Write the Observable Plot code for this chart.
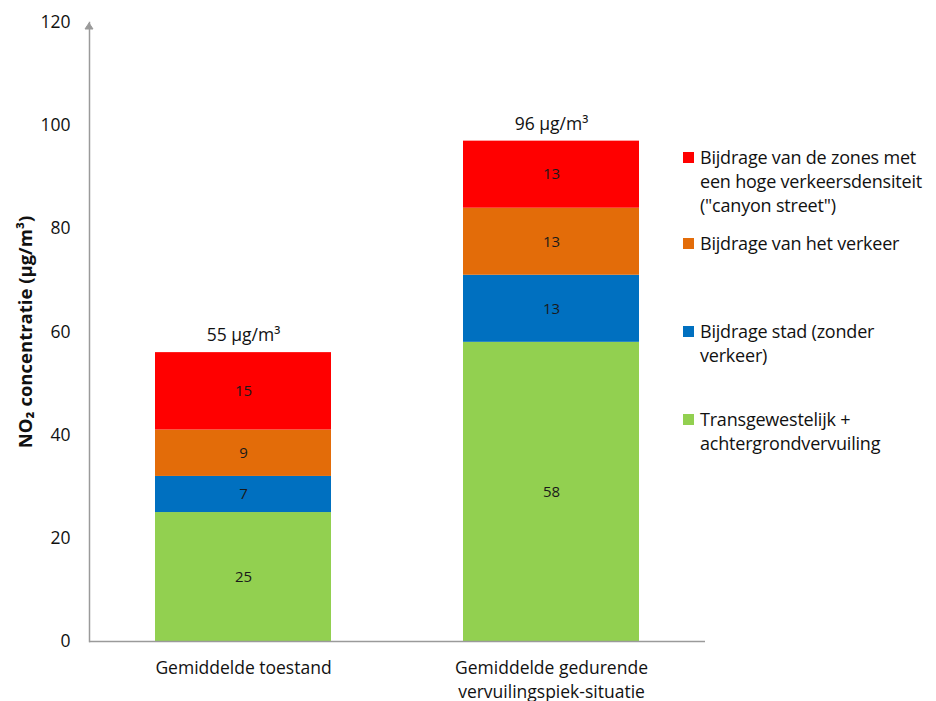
<!DOCTYPE html>
<html>
<head>
<meta charset="utf-8">
<script src="https://cdn.jsdelivr.net/npm/d3@7"></script>
<script src="https://cdn.jsdelivr.net/npm/@observablehq/plot@0.6"></script>
<style>
  html, body { margin: 0; padding: 0; background: #fff; overflow: hidden; }
  #wrap { position: relative; width: 936px; height: 701px; font-family: "Open Sans", sans-serif; }
  #wrap svg { position: absolute; left: 0; top: 0; }
  .legend { position: absolute; left: 683px; top: 0; font-size: 18px; color: #111; letter-spacing: -0.2px; }
  .legend .item { position: absolute; left: 0; width: 250px; line-height: 24px; padding-left: 17px; white-space: nowrap; }
  .legend .sw { position: absolute; left: 0; top: 7px; width: 11px; height: 11px; }
</style>
</head>
<body>
<div id="wrap"></div>
<script>
// Scenarios (x categories) and their axis labels
const categories = ["Gemiddelde toestand", "Gemiddelde gedurende vervuilingspiek-situatie"];
const categoryLabels = ["Gemiddelde toestand", "Gemiddelde gedurende\nvervuilingspiek-situatie"];

// Contributions, listed bottom to top of each stack
const series = [
  "Transgewestelijk + achtergrondvervuiling",
  "Bijdrage stad (zonder verkeer)",
  "Bijdrage van het verkeer",
  "Bijdrage van de zones met een hoge verkeersdensiteit (\"canyon street\")"
];
const seriesColors = ["#92D050", "#0070C0", "#E36C09", "#FF0000"];

// NO2 contribution (µg/m³) per series, one value per scenario
const background = [25, 58];
const city = [7, 13];
const traffic = [9, 13];
const canyon = [15, 13];

// Totals as printed above each bar
const totals = [55, 96];
const totalLabels = ["55 µg/m³", "96 µg/m³"];

// Legend text, with line breaks, and the vertical slot of each entry
const legendLines = [
  ["Bijdrage van de zones met", "een hoge verkeersdensiteit", "(\"canyon street\")"],
  ["Bijdrage van het verkeer"],
  ["Bijdrage stad (zonder", "verkeer)"],
  ["Transgewestelijk +", "achtergrondvervuiling"]
];
const legendSeriesIndex = [3, 2, 1, 0];
const legendTops = [145, 231, 319, 407];

const values = [background, city, traffic, canyon];
const rows = [];
series.forEach((s, si) => {
  categories.forEach((c, ci) => {
    rows.push({category: c, series: s, value: values[si][ci]});
  });
});
const totalRows = categories.map((c, i) => ({category: c, total: totals[i], label: totalLabels[i]}));

const stackOpts = {x: "category", y: "value", z: "series", order: null};

const chart = Plot.plot({
  width: 936,
  height: 701,
  marginLeft: 89,
  marginRight: 231,
  marginTop: 22,
  marginBottom: 60,
  style: {fontFamily: "'Open Sans', sans-serif", fontSize: "17px", color: "#111", background: "#fff"},
  x: {domain: categories, paddingInner: 0.43, paddingOuter: 0.215, label: null},
  y: {domain: [0, 120], ticks: [0, 20, 40, 60, 80, 100, 120], label: null},
  color: {domain: series, range: seriesColors},
  marks: [
    Plot.barY(rows, Plot.stackY({...stackOpts, fill: "series"})),
    Plot.text(rows, Plot.stackY({...stackOpts, text: d => String(d.value), fill: "#1a1a1a", fontSize: 15})),
    Plot.text(totalRows, {x: "category", y: "total", text: "label", dy: -22, fontSize: 17.5, fill: "#111"}),
    Plot.ruleY([0], {stroke: "#9a9a9a", strokeWidth: 1.5}),
    Plot.frame({anchor: "left", stroke: "#9a9a9a", strokeWidth: 1.5}),
    Plot.axisY({tickSize: 0, tickPadding: 19, fontSize: 17.5, ticks: [0, 20, 40, 60, 80, 100, 120],
      label: "NO₂ concentratie (µg/m³)", labelAnchor: "center", labelArrow: "none", labelOffset: 71}),
    Plot.axisX({tickSize: 0, tickPadding: 15, fontSize: 17.5, label: null,
      tickFormat: d => categoryLabels[categories.indexOf(d)], lineHeight: 1.4})
  ]
});

// Bold, larger y-axis title
d3.select(chart).selectAll("[aria-label='y-axis label'] text")
  .attr("font-weight", "bold").attr("font-size", 18.5);

// Arrowhead at the top of the y axis
const yTop = chart.scale("y").apply(120);
d3.select(chart).append("path")
  .attr("d", `M${89 - 4},${yTop + 7} L89,${yTop + 1} L${89 + 4},${yTop + 7} Z`)
  .attr("fill", "#9a9a9a").attr("stroke", "#9a9a9a");

const wrap = document.getElementById("wrap");
wrap.appendChild(chart);

// HTML legend beside the plot
const legend = document.createElement("div");
legend.className = "legend";
legendLines.forEach((lines, i) => {
  const item = document.createElement("div");
  item.className = "item";
  item.style.top = legendTops[i] + "px";
  const sw = document.createElement("div");
  sw.className = "sw";
  sw.style.background = seriesColors[legendSeriesIndex[i]];
  item.appendChild(sw);
  lines.forEach(t => {
    const line = document.createElement("div");
    line.textContent = t;
    item.appendChild(line);
  });
  legend.appendChild(item);
});
wrap.appendChild(legend);
</script>
</body>
</html>
